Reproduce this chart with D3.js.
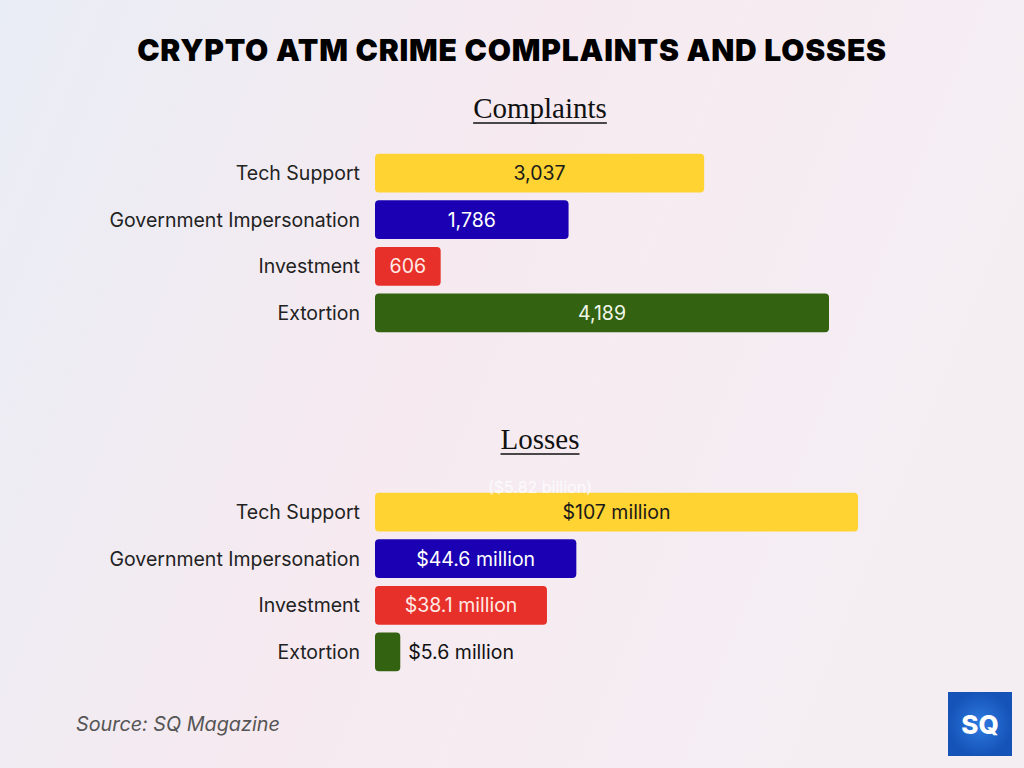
<!DOCTYPE html>
<html>
<head>
<meta charset="utf-8">
<script src="https://cdn.jsdelivr.net/npm/d3@7"></script>
<style>
  html, body { margin: 0; padding: 0; }
  body { width: 1024px; height: 768px; overflow: hidden; }
</style>
</head>
<body>
<svg id="chart"></svg>
<script>
// Chart data
const categories = ['Tech Support', 'Government Impersonation', 'Investment', 'Extortion'];
const complaints = [3037, 1786, 606, 4189];
const complaintLabels = ['3,037', '1,786', '606', '4,189'];
const losses = [107, 44.6, 38.1, 5.6];           // $ million
const lossLabels = ['$107 million', '$44.6 million', '$38.1 million', '$5.6 million'];
const barColors = ['#FFD331', '#1A00B2', '#E8302A', '#336211'];
const labelColors = ['#1a1a1a', '#ffffff', '#ffe9e4', '#f1f7e8'];

const W = 1024, H = 768;
const svg = d3.select('#chart').attr('width', W).attr('height', H);

// background gradient
const defs = svg.append('defs');
const bg = defs.append('linearGradient').attr('id', 'bg')
  .attr('x1', '0').attr('y1', '0').attr('x2', '1').attr('y2', '0.3');
bg.append('stop').attr('offset', '0%').attr('stop-color', '#e9edf5');
bg.append('stop').attr('offset', '50%').attr('stop-color', '#f6eaf0');
bg.append('stop').attr('offset', '100%').attr('stop-color', '#f4eef3');
svg.append('rect').attr('width', W).attr('height', H).attr('fill', 'url(#bg)');

const logoGrad = defs.append('radialGradient').attr('id', 'logo');
logoGrad.append('stop').attr('offset', '0%').attr('stop-color', '#2f7be0');
logoGrad.append('stop').attr('offset', '100%').attr('stop-color', '#1553b8');

svg.append('text')
  .attr('x', 512).attr('y', 61)
  .attr('text-anchor', 'middle')
  .attr('font-family', 'Inter, Roboto, sans-serif')
  .attr('font-weight', 900)
  .attr('font-size', 30)
  .attr('letter-spacing', 0.8)
  .attr('fill', '#000')
  .text('CRYPTO ATM CRIME COMPLAINTS AND LOSSES');

const x0 = 375;

// one horizontal bar panel
function panel(title, titleY, values, labels, xMax, xEnd, top, inside) {
  const t = svg.append('text')
    .attr('x', 540).attr('y', titleY)
    .attr('text-anchor', 'middle')
    .attr('font-family', '"Liberation Serif", "DejaVu Serif", serif')
    .attr('font-size', 29)
    .attr('fill', '#111')
    .text(title);
  const bb = t.node().getBBox();
  svg.append('line')
    .attr('x1', bb.x).attr('x2', bb.x + bb.width)
    .attr('y1', titleY + 5).attr('y2', titleY + 5)
    .attr('stroke', '#111').attr('stroke-width', 1.5);

  const x = d3.scaleLinear().domain([0, xMax]).range([x0, xEnd]);
  const y = d3.scaleBand().domain(categories).range([top, top + 186]).paddingInner(0.17).paddingOuter(0.08);

  const g = svg.append('g');
  g.selectAll('rect').data(values).join('rect')
    .attr('x', x(0))
    .attr('y', (d, i) => y(categories[i]))
    .attr('width', d => x(d) - x(0))
    .attr('height', y.bandwidth())
    .attr('rx', 4)
    .attr('fill', (d, i) => barColors[i]);

  g.selectAll('text.cat').data(categories).join('text')
    .attr('class', 'cat')
    .attr('x', 360)
    .attr('y', d => y(d) + y.bandwidth() / 2)
    .attr('dy', '0.35em')
    .attr('text-anchor', 'end')
    .attr('font-family', 'Inter, "Noto Sans", sans-serif')
    .attr('font-size', 19.5)
    .attr('fill', '#222')
    .text(d => d);

  g.selectAll('text.val').data(values).join('text')
    .attr('class', 'val')
    .attr('x', (d, i) => inside[i] ? (x(0) + x(d)) / 2 : x(d) + 8)
    .attr('y', (d, i) => y(categories[i]) + y.bandwidth() / 2)
    .attr('dy', '0.35em')
    .attr('text-anchor', (d, i) => inside[i] ? 'middle' : 'start')
    .attr('font-family', 'Inter, "Noto Sans", sans-serif')
    .attr('font-size', 19.5)
    .attr('fill', (d, i) => inside[i] ? labelColors[i] : '#111')
    .text((d, i) => labels[i]);
  return { x, y };
}

panel('Complaints', 118, complaints, complaintLabels, 4189, 829, 150, [true, true, true, true]);
panel('Losses', 449, losses, lossLabels, 107, 858, 489, [true, true, true, false]);

// faint leftover total label
svg.append('text')
  .attr('x', 540).attr('y', 493)
  .attr('text-anchor', 'middle')
  .attr('font-family', 'Inter, "Noto Sans", sans-serif')
  .attr('font-size', 16)
  .attr('fill', '#ffffff')
  .attr('opacity', 0.8)
  .text('($5.82 billion)');

svg.append('text')
  .attr('x', 76).attr('y', 731)
  .attr('font-family', 'Inter, "Noto Sans", sans-serif')
  .attr('font-style', 'italic')
  .attr('font-size', 19.8)
  .attr('fill', '#555')
  .text('Source: SQ Magazine');

// SQ logo
svg.append('rect')
  .attr('x', 948).attr('y', 692).attr('width', 64).attr('height', 64)
  .attr('fill', 'url(#logo)');
svg.append('text')
  .attr('x', 980).attr('y', 734)
  .attr('text-anchor', 'middle')
  .attr('font-family', 'Inter, Roboto, sans-serif')
  .attr('font-weight', 800)
  .attr('font-size', 26)
  .attr('fill', '#fff')
  .text('SQ');
</script>
</body>
</html>
